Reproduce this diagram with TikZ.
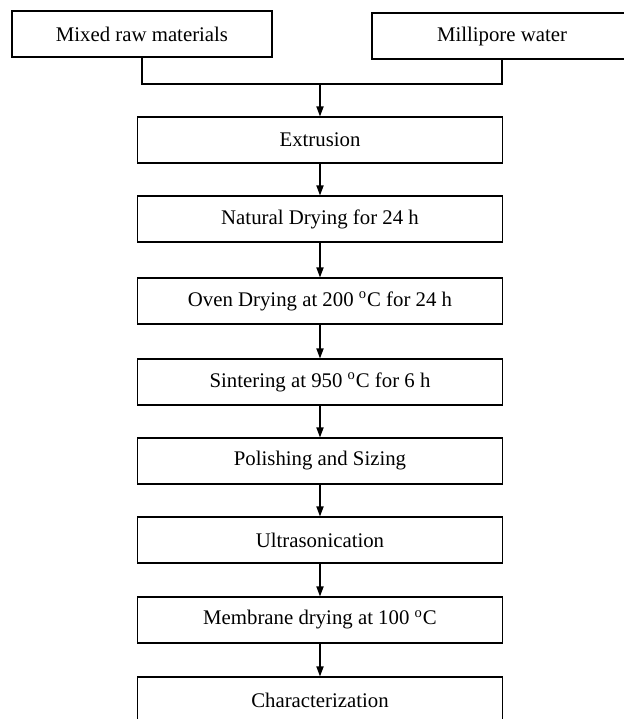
\documentclass[tikz,border=0pt]{standalone}
\usepackage{fontspec}
\setmainfont{Liberation Serif}
\usetikzlibrary{arrows.meta}

\tikzset{
	stage/.style={draw, line width=0.6pt, minimum width=182.5pt, minimum height=23pt, inner sep=0pt, font=\fontsize{10.4}{12}\selectfont},
	source/.style={stage, minimum width=130pt},
	flow/.style={line width=0.6pt, -{Triangle[width=3.6pt,length=5pt]}}
}

\newcommand{\degC}{\textsuperscript{o}C}

\begin{document}
\begin{tikzpicture}[x=0.5pt, y=-0.5pt]

	\useasboundingbox (0,0) rectangle (623,719);

	% the two inputs
	\node[source] (mixed) at (142,34) {Mixed raw materials};
	\node[source] (water) at (502,36) {Millipore water};

	% process steps
	\node[stage] (extrusion) at (320,140) {Extrusion};
	\node[stage] (natural) at (320,219) {Natural Drying for 24 h};
	\node[stage] (oven) at (320,301) {Oven Drying at 200 \degC{} for 24 h};
	\node[stage] (sinter) at (320,382) {Sintering at 950 \degC{} for 6 h};
	\node[stage] (polish) at (320,461) {Polishing and Sizing};
	\node[stage] (ultra) at (320,540) {Ultrasonication};
	\node[stage] (memdry) at (320,620) {Membrane drying at 100 \degC};
	\node[stage] (charact) at (320,700) {Characterization};

	% inputs joined into one line
	\coordinate (merge) at (320,84);
	\draw[line width=0.6pt] (mixed.south) |- (merge) -| (water.south);
	\draw[flow] (merge) -- (extrusion.north);

	\draw[flow] (extrusion) -- (natural);
	\draw[flow] (natural) -- (oven);
	\draw[flow] (oven) -- (sinter);
	\draw[flow] (sinter) -- (polish);
	\draw[flow] (polish) -- (ultra);
	\draw[flow] (ultra) -- (memdry);
	\draw[flow] (memdry) -- (charact);

\end{tikzpicture}
\end{document}
